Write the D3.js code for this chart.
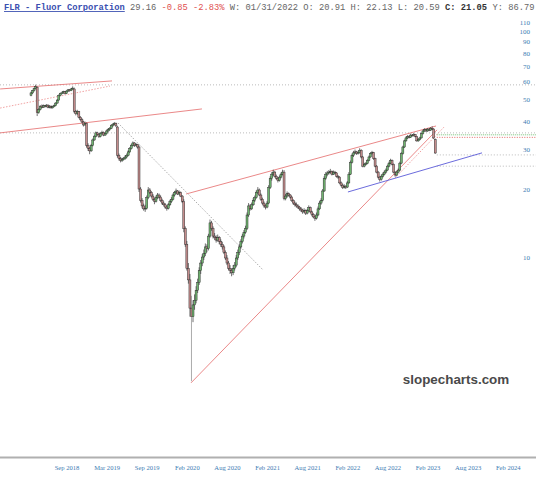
<!DOCTYPE html>
<html>
<head>
<meta charset="utf-8">
<script src="https://cdn.jsdelivr.net/npm/d3@7"></script>
<style>
  body { margin: 0; background: #fff; }
  svg { display: block; }
</style>
</head>
<body>
<div id="chart"></div>
<script>
// weekly candles, [open, high, low, close]
const ohlc = [
  [52.5,54.5,52.0,53.8],[53.8,55.5,53.2,55.0],[55.0,56.8,54.5,56.2],[56.2,58.5,55.8,57.3],[57.0,57.5,42.5,44.0],
  [44.0,46.0,43.5,45.5],[45.5,47.5,45.0,47.0],[47.0,47.8,46.0,46.5],[46.5,47.8,46.2,47.2],[47.2,47.6,46.3,46.8],
  [46.8,48.0,46.5,47.5],[47.5,47.9,46.0,46.5],[46.5,47.5,46.0,47.0],[47.0,47.4,45.8,46.2],[46.2,47.2,45.9,46.8],
  [46.8,47.8,46.5,47.3],[47.3,49.0,47.0,48.5],[48.5,50.5,48.2,50.0],[50.0,53.0,49.8,52.5],[52.5,54.0,52.0,53.5],
  [53.5,54.5,53.0,53.8],[53.8,55.0,53.3,54.5],[54.5,54.9,53.0,53.5],[53.5,55.3,53.2,54.8],[54.8,56.0,54.3,55.5],
  [55.5,56.0,54.5,55.0],[55.0,56.5,54.8,56.0],[56.0,57.5,55.6,56.5],[56.0,56.8,43.8,44.5],[44.5,45.2,42.8,43.5],
  [43.5,45.3,43.0,44.5],[44.5,44.8,41.5,42.0],[42.0,42.5,40.5,41.0],[41.0,41.6,39.5,40.0],[40.0,40.5,38.2,38.8],
  [38.8,40.2,38.5,39.5],[39.5,39.8,30.8,31.5],[31.5,32.2,29.8,30.5],[30.5,31.0,28.8,29.8],[29.8,32.0,29.5,31.5],
  [31.5,33.8,31.2,33.3],[33.3,35.0,33.0,34.5],[34.5,36.3,34.2,35.8],[35.8,36.2,34.8,35.2],[35.2,35.6,34.0,34.5],
  [34.5,36.0,34.2,35.5],[35.5,36.6,35.2,36.0],[36.0,36.3,34.6,35.0],[35.0,36.0,34.7,35.5],[35.5,37.0,35.2,36.5],
  [36.5,37.5,36.0,37.0],[37.0,38.0,36.6,37.5],[37.5,39.0,37.2,38.5],[38.5,39.5,38.0,39.0],[39.0,40.0,38.6,39.5],
  [39.5,39.8,38.0,38.5],[38.0,38.5,27.8,28.5],[28.5,29.0,27.0,27.5],[27.5,28.0,26.5,27.0],[27.0,27.8,26.6,27.3],
  [27.3,28.0,27.0,27.5],[27.5,28.5,27.2,28.0],[28.0,29.0,27.6,28.5],[28.5,30.0,28.2,29.5],[29.5,31.0,29.2,30.5],
  [30.5,32.0,30.2,31.5],[31.5,32.8,31.2,32.3],[32.3,32.6,31.0,31.5],[31.5,32.3,31.2,31.8],[31.8,32.0,30.5,31.0],
  [31.0,31.5,19.6,20.2],[20.2,20.6,17.6,18.0],[18.0,18.4,16.6,17.0],[17.0,17.4,16.2,16.5],[16.5,17.2,16.0,16.6],
  [16.6,18.9,16.4,18.5],[18.5,20.6,18.2,20.0],[20.0,20.4,19.2,19.5],[19.5,19.8,18.5,18.8],[18.8,19.2,17.9,18.2],
  [18.2,18.5,17.3,17.8],[17.8,18.9,17.6,18.5],[18.5,19.4,18.2,19.0],[19.0,19.3,18.3,18.6],[18.6,18.9,17.7,18.0],
  [18.0,18.3,17.2,17.5],[17.5,17.8,16.9,17.2],[17.2,17.5,16.5,16.8],[16.8,17.1,16.2,16.6],[16.6,17.5,16.4,17.2],
  [17.2,18.1,17.0,17.8],[17.8,18.6,17.5,18.2],[18.2,19.3,18.0,19.0],[19.0,19.8,18.7,19.5],[19.5,20.3,19.2,19.8],
  [19.8,20.0,19.0,19.2],[19.2,19.9,19.0,19.5],[19.5,19.7,18.6,18.8],[18.8,19.0,17.5,17.8],[17.8,18.2,13.0,13.5],
  [13.5,13.8,11.2,11.5],[11.5,11.9,8.8,9.0],[9.0,9.5,7.7,8.0],[8.0,8.5,5.5,6.0],[6.0,6.8,2.85,5.5],
  [5.5,6.5,5.2,6.2],[6.2,6.9,5.9,6.5],[6.5,7.5,6.3,7.2],[7.2,8.1,7.0,7.8],[7.8,9.1,7.6,8.8],
  [8.8,9.8,8.5,9.5],[9.5,10.4,9.2,10.1],[10.1,10.9,9.8,10.5],[10.5,11.6,10.2,11.2],[11.2,11.5,10.6,11.0],
  [11.0,12.8,10.8,12.5],[12.5,14.8,12.3,14.3],[14.3,14.6,13.2,13.5],[13.5,13.8,12.2,12.5],[12.5,12.9,12.0,12.3],
  [12.3,12.6,11.7,12.0],[12.0,12.7,11.8,12.3],[12.3,12.5,11.5,11.8],[11.8,12.1,11.2,11.5],[11.5,11.8,10.9,11.2],
  [11.2,11.4,10.4,10.6],[10.6,10.8,9.8,10.0],[10.0,10.3,9.3,9.5],[9.5,9.7,8.8,9.0],[9.0,9.3,8.5,8.8],
  [8.8,9.0,8.3,8.6],[8.6,9.3,8.4,9.0],[9.0,9.6,8.8,9.3],[9.3,10.3,9.1,10.0],[10.0,10.9,9.8,10.6],
  [10.6,11.5,10.3,11.2],[11.2,12.1,11.0,11.8],[11.8,12.8,11.6,12.5],[12.5,13.3,12.2,13.0],[13.0,13.9,12.8,13.5],
  [13.5,15.9,13.3,15.5],[15.5,17.5,15.2,17.0],[17.0,17.3,16.2,16.5],[16.5,17.6,16.3,17.2],[17.2,18.4,17.0,18.0],
  [18.0,18.9,17.7,18.5],[18.5,19.9,18.3,19.5],[19.5,20.6,19.2,20.0],[20.0,20.3,18.8,19.0],[19.0,19.3,17.9,18.2],
  [18.2,18.5,17.2,17.5],[17.5,17.8,16.7,17.0],[17.0,17.3,16.4,16.8],[16.8,17.9,16.6,17.5],[17.5,21.0,17.3,20.5],
  [20.5,23.0,20.2,22.5],[22.5,24.0,22.0,23.5],[23.5,24.6,23.0,24.0],[24.0,24.3,22.7,23.0],[23.0,23.4,22.2,22.5],
  [22.5,22.8,21.6,22.0],[22.0,23.2,21.8,22.8],[22.8,23.9,22.5,23.5],[23.5,24.6,23.2,24.0],[24.0,24.5,18.0,18.3],
  [18.3,19.2,18.0,18.8],[18.8,19.7,18.5,19.3],[19.3,19.5,18.7,19.0],[19.0,19.2,18.3,18.6],[18.6,18.8,17.7,18.0],
  [18.0,18.2,17.2,17.5],[17.5,17.8,16.9,17.2],[17.2,17.6,16.7,17.0],[17.0,17.3,16.5,16.8],[16.8,17.0,16.2,16.5],
  [16.5,16.8,16.0,16.3],[16.3,16.5,15.7,16.0],[16.0,16.6,15.8,16.2],[16.2,16.4,15.5,15.8],[15.8,16.5,15.6,16.2],
  [16.2,17.1,16.0,16.7],[16.7,16.9,15.8,16.0],[16.0,16.2,15.3,15.6],[15.6,15.8,15.0,15.2],[15.2,15.4,14.6,15.0],
  [15.0,15.9,14.8,15.5],[15.5,16.9,15.3,16.5],[16.5,17.9,16.3,17.5],[17.5,18.4,17.2,18.0],[18.0,20.2,17.8,19.8],
  [19.8,23.0,19.6,22.5],[22.5,24.0,22.2,23.5],[23.5,24.3,23.0,23.8],[23.8,24.5,23.4,24.0],[24.0,24.8,23.6,24.2],
  [24.2,24.4,23.2,23.5],[23.5,24.4,23.3,24.0],[24.0,24.3,23.4,23.8],[23.8,24.0,22.7,23.0],[23.0,23.3,22.4,22.8],
  [22.8,23.0,21.2,21.5],[21.5,21.8,20.7,21.0],[21.0,21.3,20.2,20.5],[20.5,21.2,20.3,20.8],[20.8,21.0,20.2,20.6],
  [20.6,21.9,20.4,21.5],[21.5,24.0,21.3,23.5],[23.5,27.0,23.3,26.5],[26.5,29.0,26.2,28.5],[28.5,29.8,28.0,29.2],
  [29.2,30.2,28.8,29.5],[29.5,29.8,28.6,29.0],[29.0,29.8,28.7,29.3],[29.3,30.6,29.0,30.0],[30.0,30.3,27.6,28.0],
  [28.0,28.3,25.2,25.5],[25.5,26.4,25.2,26.0],[26.0,26.6,25.7,26.2],[26.2,27.4,26.0,27.0],[27.0,28.4,26.8,28.0],
  [28.0,29.4,27.8,29.0],[29.0,29.8,28.7,29.3],[29.3,29.5,27.2,27.5],[27.5,27.8,25.2,25.5],[25.5,25.8,23.7,24.0],
  [24.0,24.3,22.5,22.8],[22.8,23.0,21.8,22.3],[22.3,23.4,22.0,23.0],[23.0,23.9,22.7,23.5],[23.5,24.4,23.2,24.0],
  [24.0,24.9,23.7,24.5],[24.5,25.9,24.3,25.5],[25.5,26.7,25.2,26.3],[26.3,27.5,26.0,27.0],[27.0,27.3,25.7,26.0],
  [26.0,26.2,23.7,24.0],[24.0,24.2,22.9,23.3],[23.3,24.4,23.0,24.0],[24.0,24.9,23.7,24.5],[24.5,26.7,24.3,26.3],
  [26.3,29.4,26.0,29.0],[29.0,31.4,28.7,31.0],[31.0,33.4,30.7,33.0],[33.0,34.5,32.7,34.0],[34.0,35.0,33.6,34.5],
  [34.5,34.9,33.8,34.2],[34.2,35.5,34.0,35.0],[35.0,35.3,34.4,34.8],[34.8,35.7,34.5,35.2],[35.2,35.4,34.2,34.5],
  [34.5,34.7,32.7,33.0],[33.0,33.9,32.7,33.5],[33.5,34.4,33.2,34.0],[34.0,35.9,33.8,35.5],[35.5,36.9,35.2,36.5],
  [36.5,37.5,36.2,37.0],[37.0,37.3,36.1,36.5],[36.5,37.6,36.2,37.2],[37.2,37.5,36.4,36.8],[36.8,38.0,36.5,37.5],
  [37.5,38.3,37.0,37.2],[37.2,37.5,33.6,34.0],[33.4,33.8,28.9,29.16]
];

// x tick labels and the bar index they sit on
const xTickLabels = ["Sep 2018","Mar 2019","Sep 2019","Feb 2020","Aug 2020","Feb 2021",
                     "Aug 2021","Feb 2022","Aug 2022","Feb 2023","Aug 2023","Feb 2024"];
const xTickBars = [23, 49, 75, 101, 127, 153, 179, 205, 231, 257, 283, 309];
const yTicks = [10, 20, 30, 40, 50, 60, 70, 80, 90, 100, 110];

// drawn lines, endpoints as [bar, price]
const redLines = [
  [[-20, 56.0], [52.5, 60.8]],
  [[-20, 35.8], [110.8, 45.7]],
  [[100.5, 19.2], [262.5, 38.4]],
  [[103.7, 2.80], [263.1, 36.9]]
];
const redDottedLines = [
  [[-20, 46.1], [51.2, 57.7]],
  [[235.9, 22.6], [267.7, 38.0]]
];
const grayDiagonal = [[56.4, 39.6], [150.4, 8.85]];
const blueLine = [[205.4, 19.6], [292.3, 29.2]];
const fullLevels = [58.4, 35.8];          // gray dotted, whole width
const rightLevels = [28.6, 25.5];         // gray dotted from last bar
const greenLevel = 35.1;
const redLevel = 34.2;

const W = 536, H = 480;
const svg = d3.select("#chart").append("svg")
  .attr("width", W).attr("height", H);

const x = d3.scaleLinear().domain([0, 262]).range([31, 31 + 262 * 1.543]);
const y = d3.scaleLog().domain([10, 100]).range([258, 32.1]);

// level lines
const lvl = svg.append("g");
fullLevels.forEach(v => {
  lvl.append("line").attr("x1", 0).attr("x2", W)
    .attr("y1", y(v)).attr("y2", y(v))
    .attr("stroke", "#aaa").attr("stroke-width", 0.8).attr("stroke-dasharray", "1,2");
});
rightLevels.forEach(v => {
  lvl.append("line").attr("x1", x(263)).attr("x2", W)
    .attr("y1", y(v)).attr("y2", y(v))
    .attr("stroke", "#aaa").attr("stroke-width", 0.8).attr("stroke-dasharray", "1,2");
});
lvl.append("line").attr("x1", x(263)).attr("x2", W)
  .attr("y1", y(greenLevel)).attr("y2", y(greenLevel))
  .attr("stroke", "#66bb66").attr("stroke-width", 0.9).attr("stroke-dasharray", "1,1");
lvl.append("line").attr("x1", x(263)).attr("x2", W)
  .attr("y1", y(redLevel)).attr("y2", y(redLevel))
  .attr("stroke", "#e05555").attr("stroke-width", 0.9).attr("stroke-dasharray", "1,1.5");

// trend lines
const tl = svg.append("g");
function seg(p, stroke, width, dash) {
  tl.append("line")
    .attr("x1", x(p[0][0])).attr("y1", y(p[0][1]))
    .attr("x2", x(p[1][0])).attr("y2", y(p[1][1]))
    .attr("stroke", stroke).attr("stroke-width", width)
    .attr("stroke-dasharray", dash);
}
redLines.forEach(p => seg(p, "#e56a6a", 0.8, null));
redDottedLines.forEach(p => seg(p, "#ec8a8a", 0.8, "1.5,1.5"));
seg(grayDiagonal, "#999", 0.8, "1.5,1.5");
seg(blueLine, "#5a5ad8", 0.9, null);

// candles
const bw = 2.0;
const candles = svg.append("g").selectAll("g")
  .data(ohlc)
  .join("g");
candles.append("line")
  .attr("x1", (d, i) => x(i)).attr("x2", (d, i) => x(i))
  .attr("y1", d => y(d[1])).attr("y2", d => y(d[2]))
  .attr("stroke", (d, i) => d[2] < 3 ? "#888" : "#333")
  .attr("stroke-width", 0.7);
candles.append("rect")
  .attr("x", (d, i) => x(i) - bw / 2)
  .attr("width", bw)
  .attr("y", d => y(Math.max(d[0], d[3])))
  .attr("height", d => Math.max(0.8, Math.abs(y(d[0]) - y(d[3]))))
  .attr("fill", d => d[3] >= d[0] ? "#6fb36f" : "#c48c8c")
  .attr("stroke", "#2a2a2a")
  .attr("stroke-width", 0.45);

// y labels on the right
svg.append("g")
  .selectAll("text")
  .data(yTicks)
  .join("text")
    .attr("x", 530)
    .attr("y", d => y(d) + 2)
    .attr("text-anchor", "end")
    .attr("font-family", "'Liberation Serif', serif")
    .attr("font-size", 7)
    .attr("fill", "#3d7cb3")
    .text(d => d);

// x axis
svg.append("line")
  .attr("x1", 0).attr("x2", W).attr("y1", 457.5).attr("y2", 457.5)
  .attr("stroke", "#b0b0b0").attr("stroke-width", 2);

const xAxis = svg.append("g")
  .attr("transform", "translate(0,458)")
  .call(d3.axisBottom(x)
    .tickValues(xTickBars)
    .tickSize(0)
    .tickPadding(7)
    .tickFormat((d, i) => xTickLabels[i]));
xAxis.select(".domain").remove();
xAxis.selectAll("text")
  .attr("font-family", "'Liberation Serif', serif")
  .attr("font-size", 6.6)
  .attr("fill", "#3d7cb3");

// header
const hdr = svg.append("text")
  .attr("x", 4).attr("y", 10)
  .attr("font-family", "'Liberation Mono', monospace")
  .attr("font-size", 8.75)
  .attr("fill", "#666")
  .attr("xml:space", "preserve");
hdr.append("tspan").text("FLR - Fluor Corporation")
  .attr("fill", "#3a4fb0").attr("font-weight", "bold")
  .attr("text-decoration", "underline");
hdr.append("tspan").text(" 29.16 ");
hdr.append("tspan").text("-0.85 -2.83%").attr("fill", "#e05050");
hdr.append("tspan").text(" W: 01/31/2022 O: 20.91 H: 22.13 L: 20.59 ");
hdr.append("tspan").text("C: 21.05").attr("font-weight", "bold").attr("fill", "#333");
hdr.append("tspan").text(" Y: 86.79");

// watermark
svg.append("text")
  .attr("x", 456).attr("y", 384)
  .attr("text-anchor", "middle")
  .attr("font-family", "'Liberation Sans', Arial, sans-serif")
  .attr("font-weight", "bold")
  .attr("font-size", 13.4)
  .attr("fill", "#4a4a4a")
  .text("slopecharts.com");
</script>
</body>
</html>
